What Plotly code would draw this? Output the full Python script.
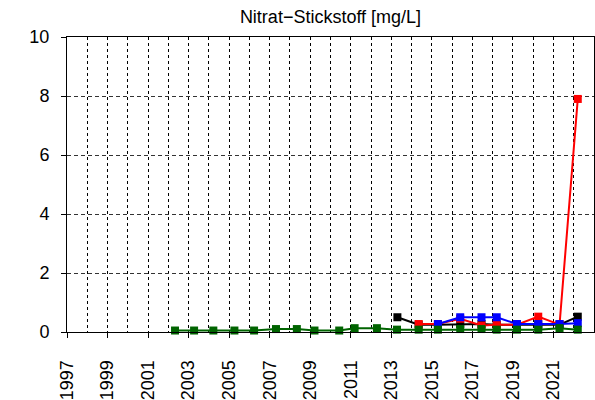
import plotly.graph_objects as go

title = "Nitrat\u2212Stickstoff [mg/L]"

black_x = [2013.3, 2014.35, 2015.3, 2016.4, 2017.45, 2018.2, 2019.2, 2020.25, 2021.3, 2022.2]
black_y = [0.5, 0.25, 0.25, 0.27, 0.27, 0.25, 0.25, 0.25, 0.25, 0.52]

red_x = [2014.35, 2015.3, 2016.4, 2017.45, 2018.2, 2019.2, 2020.25, 2021.3, 2022.2]
red_y = [0.27, 0.27, 0.45, 0.22, 0.25, 0.25, 0.52, 0.25, 7.9]

blue_x = [2015.3, 2016.4, 2017.45, 2018.2, 2019.2, 2020.25, 2021.3, 2022.2]
blue_y = [0.27, 0.5, 0.5, 0.5, 0.27, 0.27, 0.27, 0.3]

green_x = [2002.33, 2003.27, 2004.22, 2005.26, 2006.23, 2007.31, 2008.34, 2009.21,
           2010.43, 2011.19, 2012.29, 2013.28, 2014.35, 2015.3, 2016.4, 2017.45,
           2018.2, 2019.2, 2020.25, 2021.3, 2022.2]
green_y = [0.05, 0.05, 0.05, 0.05, 0.05, 0.1, 0.1, 0.05,
           0.05, 0.13, 0.13, 0.08, 0.08, 0.08, 0.1, 0.1,
           0.08, 0.08, 0.08, 0.13, 0.08]

x_ticks = list(range(1997, 2022, 2))
y_ticks = [0, 2, 4, 6, 8, 10]

fig = go.Figure()
for xs, ys, col in [(black_x, black_y, "black"), (red_x, red_y, "#FF0000"),
                    (blue_x, blue_y, "#0000FF"), (green_x, green_y, "#006400")]:
    fig.add_trace(go.Scatter(x=xs, y=ys, mode="lines+markers",
                             line=dict(color=col, width=2),
                             marker=dict(symbol="square", size=8, color=col),
                             cliponaxis=False, showlegend=False))

font = dict(family="Liberation Sans, Arial, sans-serif", size=18, color="black")
fig.update_layout(
    width=595, height=400,
    margin=dict(l=67, r=1, t=37, b=68, autoexpand=False),
    paper_bgcolor="white", plot_bgcolor="white",
    font=font,
    title=dict(text=title, x=(67 + 594) / 2 / 595, xanchor="center",
               y=1 - 17 / 400, yanchor="middle", font=font),
)
fig.update_xaxes(
    range=[1997, 2023], tickvals=x_ticks, ticktext=[str(v) for v in x_ticks],
    tickangle=-90, ticks="outside", ticklen=5, tickcolor="black",
    ticklabelstandoff=15, automargin=False,
    showline=True, linecolor="black", linewidth=1, mirror=True,
    showgrid=False, zeroline=False,
    minor=dict(tickvals=list(range(1998, 2023)), showgrid=True, gridcolor="black",
               griddash="3px,3px", gridwidth=1, ticks=""),
)
fig.update_yaxes(
    range=[0, 10], tickvals=y_ticks, ticks="outside", ticklen=5, tickcolor="black",
    ticklabelstandoff=8, automargin=False,
    showline=True, linecolor="black", linewidth=1, mirror=True,
    showgrid=True, gridcolor="#333", griddash="4px,3px", gridwidth=1,
    zeroline=False,
)
post = ("document.body.style.margin='0px';"
        "document.body.style.overflow='hidden';"
        "var gd=document.getElementById('{plot_id}');"
        "Plotly.relayout(gd,{width:595,height:400});")
fig.write_html("out.html", post_script=post,
               config={"displayModeBar": False, "staticPlot": True},
               default_width="595px", default_height="400px")
